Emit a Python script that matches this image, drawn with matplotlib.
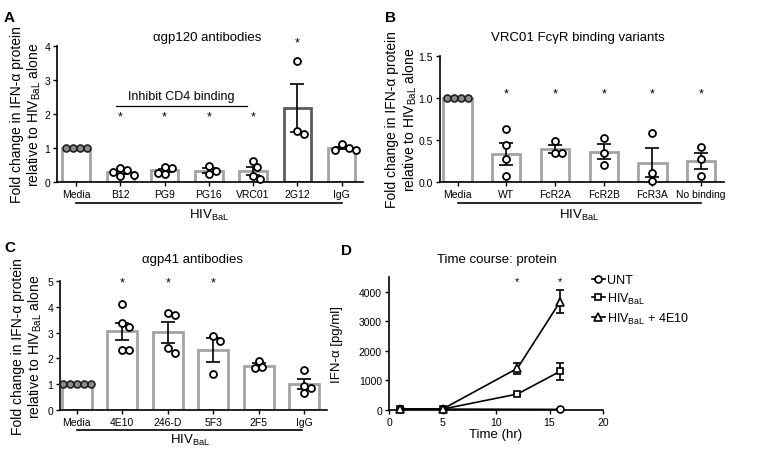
import numpy as np
import matplotlib
matplotlib.use("Agg")
import matplotlib.pyplot as plt
import matplotlib.transforms as mtransforms
from matplotlib.lines import Line2D

plt.rcParams['font.family'] = ['Liberation Sans', 'DejaVu Sans']
plt.rcParams['mathtext.fontset'] = 'custom'
plt.rcParams['mathtext.rm'] = 'Liberation Sans'
plt.rcParams['mathtext.it'] = 'Liberation Sans:italic'
plt.rcParams['mathtext.bf'] = 'Liberation Sans:bold'

HIV = r'HIV$_{\mathrm{BaL}}$'
YLAB = 'Fold change in IFN-α protein\nrelative to ' + HIV + ' alone'

# ---- panel A data: anti-gp120 antibodies
a_groups = ['Media', 'B12', 'PG9', 'PG16', 'VRC01', '2G12', 'IgG']
a_points = [[1, 1, 1, 1], [0.40, 0.35, 0.28, 0.20, 0.18], [0.44, 0.42, 0.27, 0.23],
            [0.47, 0.32, 0.23], [0.63, 0.44, 0.17, 0.08], [3.55, 1.49, 1.41],
            [1.12, 0.99, 0.95, 0.95]]
a_means = [1.0, 0.29, 0.34, 0.33, 0.33, 2.17, 1.0]
a_sems = [0, 0.04, 0.05, 0.07, 0.12, 0.70, 0.04]
a_stars = ['', '*', '*', '*', '*', '', '']

# ---- panel B data: VRC01 FcgR binding variants
b_groups = ['Media', 'WT', 'FcR2A', 'FcR2B', 'FcR3A', 'No binding']
b_points = [[1, 1, 1, 1], [0.63, 0.44, 0.27, 0.07], [0.49, 0.34, 0.35],
            [0.52, 0.34, 0.20], [0.58, 0.11, 0.01], [0.42, 0.27, 0.07]]
b_means = [1.0, 0.33, 0.39, 0.36, 0.23, 0.25]
b_sems = [0, 0.13, 0.05, 0.09, 0.17, 0.10]
b_stars = ['', '*', '*', '*', '*', '*']

# ---- panel C data: anti-gp41 antibodies
c_groups = ['Media', '4E10', '246-D', '5F3', '2F5', 'IgG']
c_points = [[1, 1, 1, 1, 1], [4.10, 3.38, 3.20, 2.32, 2.32], [3.76, 3.70, 2.39, 2.19],
            [2.87, 2.69, 1.41], [1.90, 1.65, 1.62], [1.56, 0.93, 0.85, 0.64]]
c_means = [1.0, 3.05, 3.01, 2.33, 1.72, 1.0]
c_sems = [0, 0.34, 0.40, 0.46, 0.10, 0.20]
c_stars = ['', '*', '*', '*', '', '']

# ---- panel D data: time course
d_time_unt = [1, 5, 16]
d_unt = [30, 30, 20]
d_unt_err = [0, 0, 0]
d_time = [1, 5, 12, 16]
d_hiv = [30, 30, 540, 1310]
d_hiv_err = [0, 0, 30, 290]
d_4e10 = [30, 30, 1410, 3670]
d_4e10_err = [0, 0, 185, 400]
d_star_times = [12, 16]

W, H = 762, 460
fig = plt.figure(figsize=(W / 100, H / 100), dpi=100)


def rect(l, t, r, b):
    return [l / W, 1 - b / H, (r - l) / W, (b - t) / H]


def fx(x):
    return x / W


def fy(y):
    return 1 - y / H


LIGHT = '#a3a3a3'
DARK = '#5c5c5c'


def style(ax):
    for s in ['top', 'right']:
        ax.spines[s].set_visible(False)
    for s in ['left', 'bottom']:
        ax.spines[s].set_linewidth(1.2)
    ax.tick_params(direction='out', length=3, width=1.0, labelsize=7.5, pad=2)


def swarm(ax, vals, diam):
    # spread points sideways only where they would overlap
    p0 = ax.transData.transform((0, 0))
    p1 = ax.transData.transform((1, 1))
    sx, sy = p1[0] - p0[0], p1[1] - p0[1]
    cands = [0]
    for i in range(1, 20):
        cands += [i, -i]
    placed = []
    for v in vals:
        for c in cands:
            dx = c * diam * 0.5
            if all(np.hypot(dx - a, (v - b) * sy) >= diam for a, b in placed):
                break
        placed.append((dx, v))
    offs = np.array([p[0] for p in placed])
    if len(set(vals)) == 1:
        offs = offs - (offs.min() + offs.max()) / 2
    return offs / sx


def bar_panel(ax, groups, points, means, sems, stars, xlim, ylim, yticks,
              width, star_y, ylab_x, dark=None):
    style(ax)
    x = np.arange(len(groups))
    ax.set_xlim(*xlim)
    ax.set_ylim(*ylim)
    edges = [DARK if (dark is not None and i == dark) else LIGHT for i in x]
    ax.bar(x, means, width=width, color='white', edgecolor=edges, linewidth=2.0, zorder=2)
    ax.errorbar(x[1:], means[1:], yerr=sems[1:], fmt='none', ecolor='black',
                elinewidth=1.2, capsize=5, capthick=1.2, zorder=3)
    for i, pts in enumerate(points):
        offs = swarm(ax, pts, 7.0)
        if i == 0:
            ax.plot(x[i] + offs, pts, 'o', ms=5, mfc='#8c8c8c', mec='#222222', mew=1.2,
                    zorder=4, clip_on=False)
        else:
            ax.plot(x[i] + offs, pts, 'o', ms=5, mfc='white', mec='black', mew=1.3,
                    zorder=4, clip_on=False)
    for i, s in enumerate(stars):
        if s:
            ax.text(x[i], star_y, s, ha='center', va='center', fontsize=9, clip_on=False)
    ax.set_xticks(x)
    ax.set_xticklabels(groups)
    ax.set_yticks(yticks)
    ax.set_ylabel(YLAB, fontsize=10, linespacing=1.15)
    ax.yaxis.set_label_coords(ylab_x, 0.5)
    return x


# ---------------- A
axA = fig.add_axes(rect(57, 47, 363, 183))
bar_panel(axA, a_groups, a_points, a_means, a_sems, a_stars, (-0.43, 6.48), (0, 4),
          [0, 1, 2, 3, 4], 0.62, 1.92, -0.045, dark=5)
axA.text(5, 4.1, '*', ha='center', va='center', fontsize=9)
tr = mtransforms.blended_transform_factory(axA.transData, axA.transAxes)
axA.plot([0, 6], [-0.157, -0.157], transform=tr, color='black', lw=1.2, clip_on=False)
axA.text(3, -0.24, HIV, transform=tr, ha='center', va='center', fontsize=9.5)
axA.plot([0.9, 3.85], [2.25, 2.25], color='black', lw=0.9)
axA.text(2.37, 2.52, 'Inhibit CD4 binding', ha='center', va='center', fontsize=9)

# ---------------- B
axB = fig.add_axes(rect(440, 57, 724, 183))
bar_panel(axB, b_groups, b_points, b_means, b_sems, b_stars, (-0.36, 5.47), (0, 1.5),
          [0.0, 0.5, 1.0, 1.5], 0.58, 1.06, -0.075)
axB.set_yticklabels(['0.0', '0.5', '1.0', '1.5'])
tr = mtransforms.blended_transform_factory(axB.transData, axB.transAxes)
axB.plot([0, 5], [-0.167, -0.167], transform=tr, color='black', lw=1.2, clip_on=False)
axB.text(2.5, -0.255, HIV, transform=tr, ha='center', va='center', fontsize=9.5)

# ---------------- C
axC = fig.add_axes(rect(60, 282, 327, 411))
bar_panel(axC, c_groups, c_points, c_means, c_sems, c_stars, (-0.37, 5.5), (0, 5),
          [0, 1, 2, 3, 4, 5], 0.66, 4.94, -0.06)
tr = mtransforms.blended_transform_factory(axC.transData, axC.transAxes)
axC.plot([0, 4.95], [-0.153, -0.153], transform=tr, color='black', lw=1.2, clip_on=False)
axC.text(2.5, -0.23, HIV, transform=tr, ha='center', va='center', fontsize=9.5)

# ---------------- D
axD = fig.add_axes(rect(389, 278, 603, 411))
style(axD)
kw = dict(color='black', lw=1.2, mfc='white', mec='black', mew=1.2, capsize=3,
          elinewidth=1.2, clip_on=False, zorder=3)
axD.errorbar(d_time_unt, d_unt, yerr=d_unt_err, marker='o', ms=5, **kw)
axD.errorbar(d_time, d_hiv, yerr=d_hiv_err, marker='s', ms=5, **kw)
axD.errorbar(d_time, d_4e10, yerr=d_4e10_err, marker='^', ms=5.5, **kw)
for t in d_star_times:
    axD.text(t, 4370, '*', ha='center', va='center', fontsize=8)
axD.set_xlim(0, 20)
axD.set_ylim(0, 4500)
axD.set_xticks([0, 5, 10, 15, 20])
axD.set_yticks([0, 1000, 2000, 3000, 4000])
axD.set_xlabel('Time (hr)', fontsize=9.5, labelpad=1)
axD.set_ylabel('IFN-α [pg/ml]', fontsize=9.5)
axD.yaxis.set_label_coords(-0.215, 0.5)
handles = [Line2D([], [], color='black', lw=1.2, marker=m, ms=ms, mfc='white', mec='black', mew=1.2)
           for m, ms in [('o', 5), ('s', 5), ('^', 5.5)]]
fig.legend(handles, ['UNT', HIV, HIV + ' + 4E10'], loc='upper left',
           bbox_to_anchor=(fx(592), fy(275)), frameon=False, fontsize=9,
           handlelength=1.0, handletextpad=0.2, labelspacing=0.38,
           borderpad=0, borderaxespad=0)

# ---------------- titles and panel letters
fig.text(fx(207), fy(38), 'αgp120 antibodies', ha='center', va='center', fontsize=9.5)
fig.text(fx(578), fy(38), 'VRC01 FcγR binding variants', ha='center', va='center', fontsize=9.5)
fig.text(fx(192), fy(260), 'αgp41 antibodies', ha='center', va='center', fontsize=9.5)
fig.text(fx(497), fy(260), 'Time course: protein', ha='center', va='center', fontsize=9.5)
for letter, (x, y) in zip('ABCD', [(4, 11), (385, 11), (4, 241), (341, 244)]):
    fig.text(fx(x), fy(y), letter, ha='left', va='top', fontsize=11, fontweight='bold')

fig.savefig('out.png', dpi=100)
